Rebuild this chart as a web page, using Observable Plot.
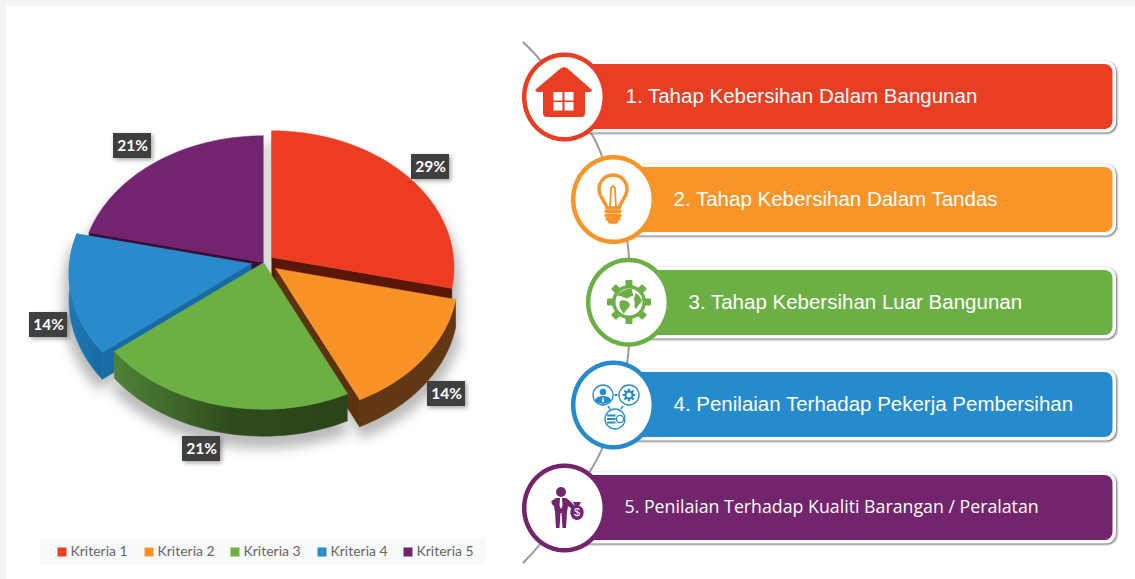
<!DOCTYPE html>
<html>
<head>
<meta charset="utf-8">
<script src="https://cdn.jsdelivr.net/npm/d3@7"></script>
<script src="https://cdn.jsdelivr.net/npm/@observablehq/plot@0.6"></script>
<style>html,body{margin:0;padding:0;background:#fff}svg{display:block}</style>
</head>
<body>
<script>
// ---- data ----
const categories = ["Kriteria 1", "Kriteria 2", "Kriteria 3", "Kriteria 4", "Kriteria 5"];
const values = [28.6, 14.3, 21.4, 14.3, 21.4];
const colors = ["#ed3c22", "#f99327", "#6cb044", "#2a8bcc", "#73246f"];
const rowColors = ["#e93e23", "#f89428", "#6cb045", "#258bcd", "#72246c"];
const rowLabels = [
  "1. Tahap Kebersihan Dalam Bangunan",
  "2. Tahap Kebersihan Dalam Tandas",
  "3. Tahap Kebersihan Luar Bangunan",
  "4. Penilaian Terhadap Pekerja Pembersihan",
  "5. Penilaian Terhadap Kualiti Barangan / Peralatan"
];

// ---- layout ----
const W = 1135, H = 579;
const center = {x: 263, y: 262}, R = 182, Rk = 136, persp = 0.073, depth = 27;
const explode = [[8, -5], [12, 6], [0, 0], [-12, 1], [0, 0]];
const labelBox = [[411, 154], [427, 381], [182, 436], [29, 312], [113, 133]];
const rowTop = [64, 167, 270, 372, 475];
const rowCx = [564, 613, 628, 613, 564];
const rowCy = [96.5, 199, 301.7, 404.5, 507.5];
const rowTextX = [625, 673, 688, 673, 624];
const legendSwatch = [57, 144, 230, 317, 403];
const rowFont = ["Liberation Sans","Liberation Sans","Liberation Sans","Liberation Sans","Open Sans"];
const rowFontSize = [20.5,20.5,20.5,20.5,17.75];
const connector = [[523,42],[540,60],[564,97],[592,135],[602,157],[627,242],[628,301],[627,360],[602,447],[590,470],[564,507],[540,543],[523,562]];

// ---- pie geometry (from the values) ----
const total = d3.sum(values);
const deg = Math.PI / 180;
let acc = 0;
const slices = values.map((v, i) => {
  const a0 = acc / total * 2 * Math.PI; acc += v;
  return {i, a0, a1: acc / total * 2 * Math.PI};
});
function proj(th, i, dz = 0, k = 1) {
  const c = Math.cos(th), s = 1 / (1 + persp * c);
  return {
    x: center.x + explode[i][0] + k * R * Math.sin(th) * s,
    y: center.y + explode[i][1] - k * Rk * c * s + dz
  };
}
function apex(i, dz = 0) { return {x: center.x + explode[i][0], y: center.y + explode[i][1] + dz}; }
function arc(a0, a1, i, dz = 0, k = 1) {
  const n = Math.max(2, Math.ceil((a1 - a0) / (2 * deg)));
  return d3.range(n + 1).map(j => proj(a0 + (a1 - a0) * j / n, i, dz, k));
}
const topFace = s => [apex(s.i), ...arc(s.a0, s.a1, s.i)];
const outerWall = (s, a0, a1) => [...arc(a0, a1, s.i), ...arc(a0, a1, s.i, depth).reverse()];
const cutWall = (s, a) => [apex(s.i), proj(a, s.i), proj(a, s.i, depth), apex(s.i, depth)];

const poly = (pts, fill) => Plot.line(pts, {x: "x", y: "y", fill, stroke: fill, strokeWidth: 0.5, curve: "linear"});

const [sRed, sOrange, sGreen, sBlue, sPurple] = slices;
const pieMarks = [
  // purple
  poly(cutWall(sPurple, sPurple.a0), "#3c0d3b"),
  poly(topFace(sPurple), colors[4]),
  // red
  poly(cutWall(sRed, sRed.a1), "#5a1708"),
  poly(topFace(sRed), colors[0]),
  // blue
  poly(outerWall(sBlue, sBlue.a0, sBlue.a1), "url(#wallBlue)"),
  poly(cutWall(sBlue, sBlue.a0), "#186ca5"),
  poly(topFace(sBlue), colors[3]),
  // orange
  poly(outerWall(sOrange, sOrange.a0, sOrange.a1), "#613813"),
  poly(cutWall(sOrange, sOrange.a1), "#5c3311"),
  poly(topFace(sOrange), colors[1]),
  // green
  poly(outerWall(sGreen, sGreen.a0, sGreen.a1), "url(#wallGreen)"),
  poly(topFace(sGreen), colors[2])
];

const shadowPts = slices.flatMap(s => [
  ...[apex(s.i, 13), ...arc(s.a0, s.a1, s.i, 13, 1.03)].map(p => ({...p, key: s.i + "a"})),
  ...[apex(s.i, depth + 8), ...arc(s.a0, s.a1, s.i, depth + 8, 1.03)].map(p => ({...p, key: s.i + "b"}))
]);

// ---- table for labels ----
const labels = values.map((v, i) => ({
  text: Math.round(v) + "%", x1: labelBox[i][0], y1: labelBox[i][1],
  x2: labelBox[i][0] + 38, y2: labelBox[i][1] + 25
}));
const rows = rowLabels.map((text, i) => ({
  text, i, color: rowColors[i], cx: rowCx[i], cy: rowCy[i], top: rowTop[i], bottom: rowTop[i] + 65,
  mid: rowTop[i] + 31.5, tx: rowTextX[i]
}));
const legend = categories.map((text, i) => ({text, color: colors[i], x: legendSwatch[i]}));
const ringPts = rows.flatMap(d => d3.range(0, 361, 4).map(a => ({
  key: d.i, color: d.color,
  x: d.cx + 40.3 * Math.cos(a * deg), y: d.cy + 42.3 * Math.sin(a * deg)
})));

// ---- decorations ----
function defs() {
  const g = d3.create("svg:defs");
  g.html(`
    <linearGradient id="wallGreen" gradientUnits="userSpaceOnUse" x1="114" y1="0" x2="350" y2="0">
      <stop offset="0" stop-color="#4f8338"/><stop offset=".5" stop-color="#2f4b1c"/><stop offset="1" stop-color="#2a431a"/>
    </linearGradient>
    <linearGradient id="wallBlue" gradientUnits="userSpaceOnUse" x1="65" y1="0" x2="115" y2="0">
      <stop offset="0" stop-color="#1f7ab8"/><stop offset="1" stop-color="#14659a"/>
    </linearGradient>`);
  return g.node();
}
function gear(cx, cy, r, teeth, tw, tl, color) {
  let out = "";
  for (let i = 0; i < teeth; i++) {
    out += `<rect x="${cx - tw / 2}" y="${cy - r - tl}" width="${tw}" height="${tl + 2}" rx="1" fill="${color}" transform="rotate(${i * 360 / teeth} ${cx} ${cy})"/>`;
  }
  return out;
}
function icons() {
  const g = d3.create("svg:g");
  const [red, or, gr, bl, pu] = rowColors;
  g.html(`
  <g transform="translate(564,97)">
    <path d="M0,-30 L3,-29 L28,-7 L27,-5 L21,-5 L21,16 Q21,20 17,20 L-17,20 Q-21,20 -21,16 L-21,-5 L-27,-5 L-29,-7 L-3,-29 Z" fill="${red}"/>
    <rect x="-10.5" y="-5" width="9" height="8.5" fill="#fff"/><rect x="0.5" y="-5" width="9" height="8.5" fill="#fff"/>
    <rect x="-10.5" y="5" width="9" height="8.5" fill="#fff"/><rect x="0.5" y="5" width="9" height="8.5" fill="#fff"/>
  </g>
  <g transform="translate(613,199)" fill="none" stroke="${or}">
    <path d="M-6,9 C-8,2 -14,-2 -14,-10 A14,14 0 1 1 14,-10 C14,-2 8,2 6,9 Z" stroke-width="3.4"/>
    <path d="M-3,9 L-2,-11 L0,-13 L2,-11 L3,9 Z" stroke-width="1.8"/>
    <path d="M-7,12.5 L7,12.5 M-7,16.5 L7,16.5 M-6,20 L6,20" stroke-width="3.4" stroke-linecap="round"/>
    <path d="M-3,22.5 L3,22.5" stroke-width="4.5" stroke-linecap="round"/>
  </g>
  <g transform="translate(0,0)">
    ${gear(629, 302, 16, 8, 7, 6, gr)}
    <circle cx="629" cy="302" r="17" fill="${gr}"/>
    <circle cx="629" cy="302" r="13.5" fill="#fff"/>
    <path d="M617,296 C620,291 627,288 632,289 C631,292 634,293 633,296 C630,296 629,299 626,298 C622,298 621,295 617,296 Z" fill="${gr}"/>
    <path d="M620,301 C624,299 630,302 630,305 C629,309 625,310 624,314 C621,310 618,306 620,301 Z" fill="${gr}"/>
    <path d="M635,293 C638,294 641,297 642,301 C639,304 637,308 636,309 C633,306 636,303 634,300 C633,298 636,296 635,293 Z" fill="${gr}"/>
  </g>
  <g transform="translate(613,404)">
    <g fill="none" stroke="${bl}" stroke-width="1.3">
      <circle cx="-10" cy="-9" r="10"/><circle cx="16" cy="-9" r="10"/><circle cx="2" cy="15" r="10"/>
      <path d="M1.5,-9 L4.5,-9" stroke-width="2"/>
      <path d="M-5,2 L-3,5 M10,2 L8,5" stroke-width="1.5"/>
    </g>
    <circle cx="-10" cy="-12" r="3.3" fill="${bl}"/>
    <path d="M-18,-3 C-18,-7 -13,-8 -10,-8 C-7,-8 -2,-7 -2,-3 Q-10,3 -18,-3 Z" fill="${bl}"/>
    <path d="M-10,-8 L-11,-3 L-10,-1 L-9,-3 Z" fill="#fff"/>
    ${gear(16, -9, 4.5, 8, 2.2, 2, bl)}
    <circle cx="16" cy="-9" r="3.6" fill="none" stroke="${bl}" stroke-width="2"/>
    <rect x="-6" y="10.5" width="8.5" height="2" fill="${bl}"/><rect x="-6" y="14" width="8.5" height="2" fill="${bl}"/><rect x="-6" y="17.5" width="8.5" height="2" fill="${bl}"/>
    <circle cx="7" cy="15" r="3.6" fill="none" stroke="${bl}" stroke-width="1.3"/>
  </g>
  <g transform="translate(561,507)">
    <circle cx="0" cy="-15" r="5" fill="${pu}"/>
    <path d="M-5,-9 L5,-9 L9,-6 L16,1 L14,4 L7,-1 L6,5 L5,21 L1.5,21 L0.5,6 L-0.5,6 L-1.5,21 L-5,21 L-6,5 L-7,-1 C-9,-2 -10,-5 -9.5,-6 Z" fill="${pu}"/>
    <path d="M-1,-9 L1,-9 L1.5,-1 L0,2 L-1.5,-1 Z" fill="#fff"/>
    <path d="M12,-5 L20,-5 L18,-1 C25,0 24,13 16,13 C8,13 7,0 14,-1 Z" fill="${pu}"/>
    <text x="16" y="9" fill="#fff" font-size="11" text-anchor="middle" font-family="Liberation Sans">$</text>
  </g>`);
  return g.node();
}

const num = {x: {domain: [0, W], range: [0, W], axis: null}, y: {domain: [0, H], range: [0, H], axis: null}};

const chart = Plot.plot({
  width: W, height: H,
  marginTop: 0, marginRight: 0, marginBottom: 0, marginLeft: 0,
  ...num,
  style: {background: "#f6f3f4"},
  marks: [
    defs,
    Plot.rect([{}], {x1: () => 6, x2: () => W, y1: () => 6, y2: () => H, fill: "#fff"}),
    // legend
    Plot.rect([{}], {x1: () => 40, x2: () => 485, y1: () => 538, y2: () => 565, fill: "#f8f9f9"}),
    Plot.dot(legend, {x: d => d.x + 4.5, y: () => 551.5, symbol: "square", r: 5.08, fill: "color", stroke: "none"}),
    Plot.text(legend, {x: d => d.x + 13, y: () => 551.5, text: "text", textAnchor: "start", fill: "#666", fontSize: 14, fontFamily: "Lato"}),
    // pie
    Plot.line(shadowPts, {x: "x", y: "y", z: "key", fill: "#bbbbbb", stroke: "none", imageFilter: "blur(6px)"}),
    ...pieMarks,
    // value labels
    Plot.rect(labels, {x1: "x1", x2: "x2", y1: "y1", y2: "y2", fill: "#3f3f3f", imageFilter: "drop-shadow(2px 2px 2px rgba(0,0,0,.35))"}),
    Plot.text(labels, {x: d => (d.x1 + d.x2) / 2, y: d => (d.y1 + d.y2) / 2, text: "text", fill: "#fff", fontSize: 15.5, fontWeight: 700, fontFamily: "Lato"}),
    // connector
    Plot.line(connector, {x: d => d[0], y: d => d[1], stroke: "#999", strokeWidth: 2, curve: "catmull-rom"}),
    // rows
    Plot.rect(rows, {x1: "cx", x2: () => 1116, y1: d => d.top - 3, y2: d => d.bottom + 3.5, fill: "#fff", rx: 10, ry: 10, imageFilter: "drop-shadow(1px 1.5px 1.2px #666)"}),
    Plot.rect(rows, {x1: "cx", x2: () => 1112.5, y1: "top", y2: "bottom", fill: "color", rx: 8, ry: 8}),
    Plot.line(ringPts, {x: "x", y: "y", z: "key", fill: "#fff", stroke: "color", strokeWidth: 4.5, curve: "linear"}),
    icons,
    ...rows.map((d, i) => Plot.text([d], {x: "tx", y: "mid", text: "text", textAnchor: "start", fill: "#fff", fontSize: rowFontSize[i], fontFamily: rowFont[i]}))
  ]
});
document.body.appendChild(chart);
</script>
</body>
</html>
